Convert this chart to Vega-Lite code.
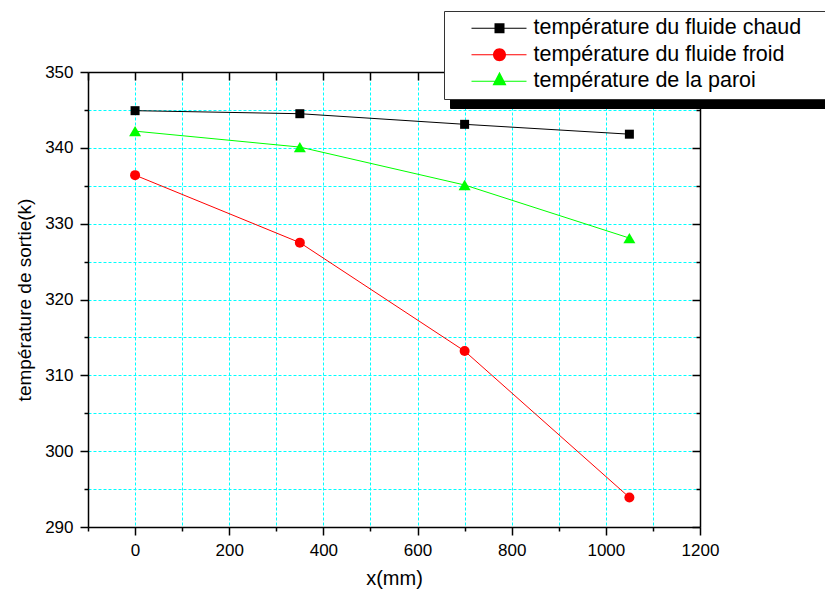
{
  "$schema": "https://vega.github.io/schema/vega-lite/v6.json",
  "width": 612,
  "height": 455,
  "autosize": {"type": "none"},
  "padding": {"left": 88, "top": 72, "right": 125, "bottom": 67},
  "background": "white",
  "config": {
    "font": "Liberation Sans",
    "view": {"stroke": null},
    "axis": {
      "domainColor": "black",
      "domainWidth": 1.5,
      "tickColor": "black",
      "tickWidth": 1.5,
      "labelColor": "black",
      "labelFont": "Liberation Sans",
      "labelFontSize": 17,
      "titleFont": "Liberation Sans",
      "titleColor": "black",
      "titleFontWeight": "normal",
      "gridDash": [3, 2],
      "gridWidth": 1
    },
    "legend": {"labelFont": "Liberation Sans"}
  },
  "data": {
    "values": [
      {"series": "température du fluide chaud", "x": 0, "y": 344.9},
      {"series": "température du fluide chaud", "x": 350, "y": 344.5},
      {"series": "température du fluide chaud", "x": 700, "y": 343.1},
      {"series": "température du fluide chaud", "x": 1050, "y": 341.8},
      {"series": "température du fluide froid", "x": 0, "y": 336.4},
      {"series": "température du fluide froid", "x": 350, "y": 327.5},
      {"series": "température du fluide froid", "x": 700, "y": 313.2},
      {"series": "température du fluide froid", "x": 1050, "y": 293.9},
      {"series": "température de la paroi", "x": 0, "y": 342.2},
      {"series": "température de la paroi", "x": 350, "y": 340.1},
      {"series": "température de la paroi", "x": 700, "y": 335.1},
      {"series": "température de la paroi", "x": 1050, "y": 328.1}
    ]
  },
  "resolve": {"axis": {"x": "independent", "y": "independent"}},
  "layer": [
    {
      "transform": [{"filter": "datum.series === 'température du fluide chaud'"}],
      "mark": {"type": "line", "strokeWidth": 1, "color": "#000000"},
      "encoding": {
        "x": {
          "field": "x",
          "type": "quantitative",
          "scale": {"domain": [-100, 1200], "nice": false, "zero": false},
          "axis": {
            "orient": "bottom",
            "values": [-100, 0, 100, 200, 300, 400, 500, 600, 700, 800, 900, 1000, 1100, 1200],
            "format": "d",
            "labelExpr": "datum.value % 200 === 0 ? datum.label : ''",
            "labelFlush": false,
            "labelOverlap": false,
            "labelPadding": 7,
            "tickSize": {"condition": {"test": "datum.value % 200 === 0", "value": 8}, "value": 4},
            "grid": true,
            "gridColor": {"condition": {"test": "datum.value < 0 || datum.value > 1100", "value": "transparent"}, "value": "#00FFFF"},
            "title": "x(mm)",
            "titleFontSize": 20,
            "titlePadding": 10
          }
        },
        "y": {
          "field": "y",
          "type": "quantitative",
          "scale": {"domain": [290, 350], "nice": false, "zero": false},
          "axis": {
            "orient": "left",
            "values": [290, 295, 300, 305, 310, 315, 320, 325, 330, 335, 340, 345, 350],
            "format": "d",
            "labelExpr": "datum.value % 10 === 0 ? datum.label : ''",
            "labelOverlap": false,
            "labelPadding": 7,
            "tickSize": {"condition": {"test": "datum.value % 10 === 0", "value": 8}, "value": 4},
            "grid": true,
            "gridColor": {"condition": {"test": "datum.value <= 290 || datum.value >= 350", "value": "transparent"}, "value": "#00FFFF"},
            "title": "température de sortie(k)",
            "titleFontSize": 19,
            "titlePadding": 10
          }
        }
      }
    },
    {
      "transform": [{"filter": "datum.series === 'température du fluide froid'"}],
      "mark": {"type": "line", "strokeWidth": 1, "color": "#FF0000"},
      "encoding": {
        "x": {"field": "x", "type": "quantitative", "axis": null},
        "y": {"field": "y", "type": "quantitative", "axis": null}
      }
    },
    {
      "transform": [{"filter": "datum.series === 'température de la paroi'"}],
      "mark": {"type": "line", "strokeWidth": 1, "color": "#00FF00"},
      "encoding": {
        "x": {"field": "x", "type": "quantitative", "axis": null},
        "y": {"field": "y", "type": "quantitative", "axis": null}
      }
    },
    {
      "mark": {"type": "point", "filled": true, "opacity": 1, "strokeWidth": 0},
      "encoding": {
        "x": {"field": "x", "type": "quantitative", "axis": null},
        "y": {"field": "y", "type": "quantitative", "axis": null},
        "fillOpacity": {"value": 0},
        "color": {
          "field": "series",
          "type": "nominal",
          "scale": {
            "domain": ["température du fluide chaud", "température du fluide froid", "température de la paroi"],
            "range": ["#000000", "#FF0000", "#00FF00"]
          },
          "legend": {
            "orient": "none",
            "legendX": 356,
            "legendY": -61,
            "title": "\u00a0",
            "titleOrient": "right",
            "titlePadding": 40,
            "titleFontSize": 10,
            "titleColor": "transparent",
            "zindex": 2,
            "fillColor": "white",
            "strokeColor": "#333333",
            "padding": 6.5,
            "rowPadding": 3.5,
            "symbolSize": 400,
            "symbolStrokeWidth": 0,
            "symbolOpacity": 1,
            "labelOffset": 61.5,
            "labelFontSize": 21.5,
            "labelColor": "black",
            "labelLimit": 800
          }
        },
        "shape": {
          "field": "series",
          "type": "nominal",
          "scale": {
            "domain": ["température du fluide chaud", "température du fluide froid", "température de la paroi"],
            "range": [
              "M1.025,-0.05L6.525,-0.05L6.525,0.05L1.025,0.05ZM3.325,-0.5L4.325,-0.5L4.325,0.5L3.325,0.5Z",
              "M1.025,-0.05L6.525,-0.05L6.525,0.05L1.025,0.05ZM4.475,0A0.65,0.65,0,1,1,3.175,0A0.65,0.65,0,1,1,4.475,0Z",
              "M1.025,-0.05L6.525,-0.05L6.525,0.05L1.025,0.05ZM3.825,-0.94L4.525,0.4L3.125,0.4Z"
            ]
          }
        },
        "size": {
          "field": "series",
          "type": "ordinal",
          "scale": {"range": [400, 400]},
          "legend": {
            "orient": "none",
            "legendX": 362,
            "legendY": -53,
            "title": "\u00a0",
            "titleOrient": "right",
            "titlePadding": 40,
            "titleFontSize": 10,
            "titleColor": "transparent",
            "zindex": 1,
            "fillColor": "black",
            "strokeColor": "black",
            "padding": 6.5,
            "rowPadding": 8,
            "symbolType": "circle",
            "symbolStrokeWidth": 0,
            "symbolOpacity": 0,
            "labelOffset": 335,
            "labelFontSize": 1,
            "labelColor": "transparent",
            "labelLimit": 800
          }
        }
      }
    },
    {
      "transform": [{"filter": "datum.series === 'température du fluide chaud'"}],
      "mark": {"type": "point", "shape": "square", "size": 81, "filled": true, "opacity": 1, "color": "#000000", "strokeWidth": 0},
      "encoding": {
        "x": {
          "field": "x",
          "type": "quantitative",
          "axis": {
            "orient": "top",
            "values": [-100, 0, 100, 200, 300, 400, 500, 600, 700, 800, 900, 1000, 1100, 1200],
            "labels": false,
            "title": null,
            "grid": false,
            "tickSize": -8
          }
        },
        "y": {
          "field": "y",
          "type": "quantitative",
          "axis": {
            "orient": "right",
            "values": [290, 295, 300, 305, 310, 315, 320, 325, 330, 335, 340, 345, 350],
            "labels": false,
            "title": null,
            "grid": false,
            "tickSize": {"condition": {"test": "datum.value % 10 === 0", "value": -8}, "value": -4}
          }
        }
      }
    },
    {
      "transform": [{"filter": "datum.series === 'température du fluide froid'"}],
      "mark": {"type": "point", "shape": "circle", "size": 100, "filled": true, "opacity": 1, "color": "#FF0000", "strokeWidth": 0},
      "encoding": {
        "x": {"field": "x", "type": "quantitative", "axis": null},
        "y": {"field": "y", "type": "quantitative", "axis": null}
      }
    },
    {
      "transform": [{"filter": "datum.series === 'température de la paroi'"}],
      "mark": {"type": "point", "shape": "triangle-up", "size": 144, "filled": true, "opacity": 1, "color": "#00FF00", "strokeWidth": 0},
      "encoding": {
        "x": {"field": "x", "type": "quantitative", "axis": null},
        "y": {"field": "y", "type": "quantitative", "axis": null}
      }
    }
  ]
}
